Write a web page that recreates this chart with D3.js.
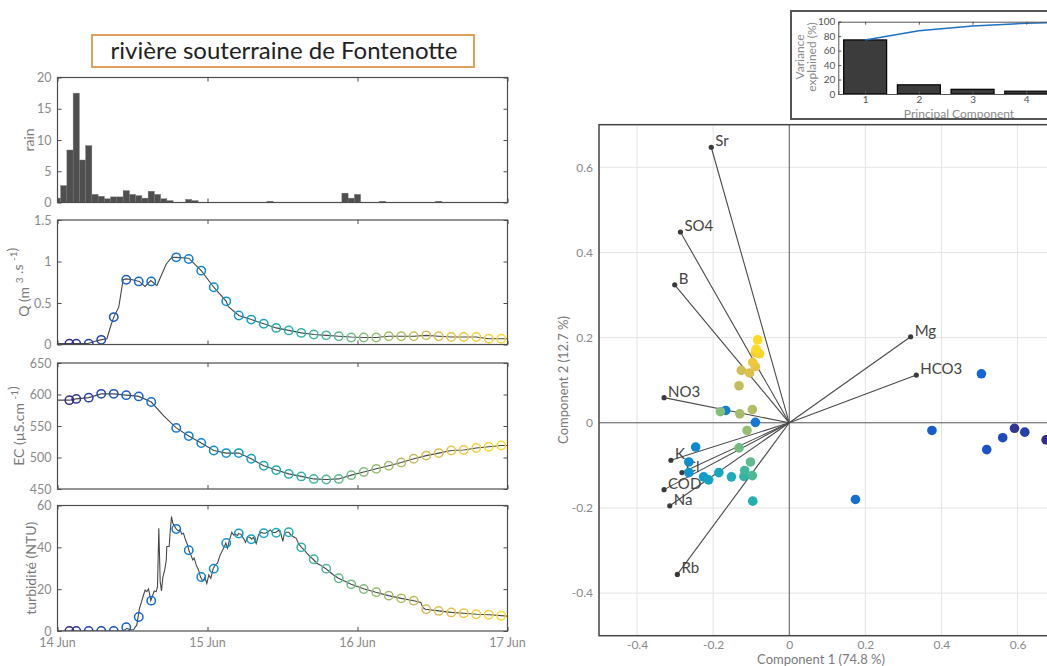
<!DOCTYPE html>
<html>
<head>
<meta charset="utf-8">
<script src="https://cdn.jsdelivr.net/npm/d3@7"></script>
<style>
  body { margin: 0; background: #fff; }
  text { font-family: Lato, "Open Sans", sans-serif; }
</style>
</head>
<body>
<svg id="fig" width="1047" height="666"></svg>
<script>
// ---- time series (hours after 14 Jun 00:00) ----
const dayTicks = [0, 24, 48, 72];
const dayLabels = ["14 Jun", "15 Jun", "16 Jun", "17 Jun"];

const rainHours  = [0, 1, 2, 3, 4, 5, 6, 7, 8, 9, 10, 11, 12, 13, 14, 15, 16, 17, 18, 21, 22, 34, 46, 47, 48, 52, 61];
const rainValues = [0.7, 2.7, 8.4, 17.5, 6.8, 9.1, 1.3, 1.0, 0.6, 0.9, 0.9, 1.9, 1.3, 1.1, 0.7, 1.8, 1.3, 0.6, 0.3, 0.5, 0.3, 0.2, 1.5, 0.7, 1.3, 0.2, 0.2];

const sampleHours = [1.9, 3, 5, 7, 9, 11, 13, 15, 19, 21, 23, 25, 27, 29, 31, 33, 35, 37, 39, 41, 43, 45, 47, 49, 51, 53, 55, 57, 59, 61, 63, 65, 67, 69, 71];
const qSamples    = [0.01, 0.01, 0.01, 0.056, 0.33, 0.78, 0.76, 0.76, 1.05, 1.03, 0.89, 0.69, 0.52, 0.35, 0.30, 0.25, 0.20, 0.17, 0.14, 0.12, 0.11, 0.10, 0.085, 0.085, 0.085, 0.10, 0.10, 0.10, 0.11, 0.10, 0.09, 0.09, 0.09, 0.07, 0.07];
const ecSamples   = [591, 593, 595, 601, 601, 599, 597, 588, 547, 534, 523, 511, 507, 507, 498, 487, 480, 474, 470, 466, 465, 466, 472, 477, 482, 487, 492, 498, 503, 507, 511, 512, 515, 517, 519];
const turbSamples = [0, 0, 0, 0, 0, 1.8, 6.7, 14.5, 48.8, 38.6, 25.8, 29.8, 42.1, 46.6, 43.9, 46.7, 47.0, 47.2, 40.0, 34.3, 29.8, 25.2, 22.3, 20.1, 18.5, 16.9, 15.6, 14.5, 10.4, 9.6, 8.9, 8.5, 8.0, 7.8, 7.3];

const qLine = [[0, 0.012], [4.9, 0.012], [6.0, 0.04], [6.9, 0.056], [7.9, 0.07], [8.5, 0.22], [9.0, 0.33], [9.8, 0.45], [10.5, 0.78],
  [11, 0.79], [12, 0.78], [13.07, 0.76], [14, 0.70], [14.93, 0.77], [15.9, 0.71], [17.4, 0.97], [18.3, 1.05], [19, 1.05], [21, 1.04],
  [23, 0.89], [25, 0.69], [27, 0.52], [27.3, 0.46], [29, 0.35], [31, 0.30], [33, 0.25], [35, 0.20], [37, 0.17], [39, 0.14], [41, 0.12],
  [43, 0.11], [45, 0.10], [47, 0.09], [49, 0.085], [51, 0.085], [53, 0.10], [55, 0.10], [57, 0.10], [59, 0.11], [61, 0.10], [63, 0.09],
  [65, 0.09], [67, 0.09], [69, 0.07], [71, 0.07], [72, 0.07]];

const ecLine = [[0, 591], [1.9, 591], [3, 593], [5, 595], [7, 601], [9, 601], [11, 599], [13, 597], [15, 588], [17, 566], [19, 547],
  [21, 534], [23, 523], [25, 511], [27, 507], [29, 507], [31, 498], [33, 487], [35, 480], [37, 474], [39, 470], [41, 466], [43, 465],
  [45, 466], [47, 472], [49, 477], [51, 482], [53, 487], [55, 492], [57, 498], [59, 503], [61, 507], [63, 511], [65, 512], [67, 515],
  [69, 517], [71, 519], [72, 519]];

const turbLine = [[0, 0], [10.56, 0], [11.09, 1.3], [11.63, 0.6], [12.16, 0.6], [12.69, 2.9], [13.12, 10.8], [13.49, 14.4], [13.76, 17.2],
  [14.03, 19.6], [14.29, 18.8], [14.56, 20.1], [14.72, 17.9], [14.93, 14.5], [15.25, 17.2], [15.47, 19.1], [15.79, 18.8], [16.0, 21.2],
  [16.21, 49.1], [16.43, 23.6], [16.64, 19.1], [16.85, 25.5], [17.17, 29.5], [17.39, 33.5], [17.49, 40.4], [17.87, 40.4], [18.03, 47.6],
  [18.24, 54.7], [18.45, 51.5], [18.77, 49.9], [18.99, 48.8], [19.31, 47.9], [19.63, 48.4], [19.89, 46.3], [20.16, 46.7], [20.48, 43.6],
  [20.8, 41.2], [21.01, 38.6], [21.33, 36.4], [21.65, 34.0], [21.87, 34.8], [22.19, 31.6], [22.56, 29.2], [22.88, 25.8], [23.25, 23.9],
  [23.57, 25.5], [23.89, 22.7], [24.21, 26.8], [24.53, 25.2], [24.91, 29.8], [25.23, 31.6], [25.6, 32.4], [26.03, 36.4], [26.45, 38.8],
  [26.83, 41.2], [26.93, 42.1], [27.2, 39.6], [27.52, 43.6], [27.89, 47.2], [28.16, 45.9], [28.48, 46.3], [28.8, 45.6], [28.96, 46.6],
  [29.33, 46.3], [29.76, 44.3], [30.08, 42.4], [30.4, 45.1], [30.83, 44.7], [31.04, 43.9], [31.36, 44.7], [31.79, 41.8], [32.16, 45.9],
  [32.53, 47.2], [32.91, 46.7], [33.28, 46.7], [33.71, 47.5], [34.03, 48.3], [34.45, 47.1], [34.93, 47.1], [35.36, 48.2], [35.73, 46.7],
  [36.05, 42.8], [36.27, 46.3], [36.59, 47.2], [37.01, 47.2], [37.33, 45.9], [37.76, 45.1], [38.19, 44.3], [38.61, 41.5], [39.04, 40.0],
  [39.47, 38.8], [39.89, 37.2], [40.43, 35.6], [40.91, 34.3], [41.49, 32.4], [42.03, 31.6], [42.93, 29.8], [43.63, 28.1], [44.16, 26.8],
  [44.96, 25.2], [46.99, 22.3], [49.07, 20.1], [50.93, 18.5], [52.96, 16.9], [54.99, 15.6], [57.01, 14.5], [58.13, 13.7], [58.45, 11.2],
  [58.88, 10.4], [60.96, 9.6], [62.99, 8.9], [65.01, 8.5], [67.09, 8.0], [69.12, 7.8], [72, 7.1]];

// ---- PCA ----
const variableNames = ["Sr", "SO4", "B", "NO3", "K", "Cl", "COD", "Na", "Rb", "Mg", "HCO3"];
const loadingPC1 = [-0.205, -0.286, -0.301, -0.329, -0.311, -0.282, -0.329, -0.314, -0.294, 0.319, 0.334];
const loadingPC2 = [0.647, 0.448, 0.324, 0.059, -0.088, -0.117, -0.157, -0.195, -0.356, 0.202, 0.112];

const scorePC1 = [0.675, 0.592, 0.619, 0.561, 0.519, 0.375, 0.505, 0.174, -0.089, -0.167, -0.246, -0.264, -0.264, -0.225, -0.212,
  -0.185, -0.152, -0.096, -0.119, -0.117, -0.097, -0.102, -0.132, -0.181, -0.111, -0.130, -0.097, -0.132, -0.126, -0.104, -0.089,
  -0.096, -0.089, -0.078, -0.087, -0.083];
const scorePC2 = [-0.040, -0.013, -0.022, -0.035, -0.063, -0.018, 0.115, -0.180, 0.001, 0.029, -0.057, -0.092, -0.117, -0.127, -0.134,
  -0.117, -0.127, -0.184, -0.126, -0.112, -0.124, -0.092, -0.059, 0.026, -0.018, 0.021, 0.031, 0.087, 0.123, 0.117, 0.132,
  0.142, 0.165, 0.162, 0.173, 0.195];
const scoreSample = [0, 1, 2, 3, 4, 5, 6, 7, 8, 9, 10, 11, 12, 13, 14, 15, 16, 17, 18, 19, 20, 21, 22, 23, 24, 25, 26, 27, 28, 29, 30,
  31, 32, 33, 34, 34];

const pcNumber = [1, 2, 3, 4, 5];
const pcVariance = [74.8, 12.7, 6.5, 3.9, 1.3];
const pcTickLabels = [1, 2, 3, 4];

// ---- setup ----
const svg = d3.select("#fig");
const frameCol = "#4d4d4d", tickCol = "#8a8a8a", lineCol = "#484848";
const parula = d3.interpolateRgbBasis(["#352a87", "#0f5cdd", "#1481d6", "#06a4ca", "#2eb7a4", "#87bf77", "#d1bb59", "#fec832", "#f9fb0e"]);
const sampleColour = d3.scaleLinear().domain([0, sampleHours.length - 1]).range([0, 0.92]);
const colourOf = i => parula(sampleColour(i));

// title box
svg.append("rect").attr("x", 92).attr("y", 35).attr("width", 382).attr("height", 32)
  .attr("fill", "#fff").attr("stroke", "#dfa15b").attr("stroke-width", 2);
svg.append("text").attr("x", 284).attr("y", 59).attr("text-anchor", "middle")
  .attr("font-size", 24).attr("fill", "#222").text("rivière souterraine de Fontenotte");

const x = d3.scaleLinear().domain([0, 72]).range([57.5, 507.5]);

function panel(id, top, bottom, domain, ticks) {
  const y = d3.scaleLinear().domain(domain).range([bottom, top]);
  const g = svg.append("g");
  g.append("clipPath").attr("id", id).append("rect")
    .attr("x", x.range()[0]).attr("y", top).attr("width", x.range()[1] - x.range()[0]).attr("height", bottom - top);
  const fmt = d => String(d);
  const left = g.append("g").attr("transform", `translate(${x.range()[0]},0)`)
    .call(d3.axisLeft(y).tickValues(ticks).tickSize(-4).tickPadding(6).tickFormat(fmt));
  const right = g.append("g").attr("transform", `translate(${x.range()[1]},0)`)
    .call(d3.axisRight(y).tickValues(ticks).tickSize(-4).tickFormat(""));
  const topAx = g.append("g").attr("transform", `translate(0,${top})`)
    .call(d3.axisTop(x).tickValues(dayTicks).tickSize(-4).tickFormat(""));
  const botAx = g.append("g").attr("transform", `translate(0,${bottom})`)
    .call(d3.axisBottom(x).tickValues(dayTicks).tickSize(-4).tickFormat(""));
  [left, right, topAx, botAx].forEach(a => {
    a.select(".domain").remove();
    a.selectAll("line").attr("stroke", frameCol);
    a.selectAll("text").attr("fill", tickCol).attr("font-size", 12.5).attr("font-family", "Lato");
  });
  const plot = g.append("g").attr("clip-path", `url(#${id})`);
  return { y, g, plot, top, bottom };
}

function frame(p) {
  p.g.append("rect").attr("x", x.range()[0]).attr("y", p.top)
    .attr("width", x.range()[1] - x.range()[0]).attr("height", p.bottom - p.top)
    .attr("fill", "none").attr("stroke", frameCol).attr("stroke-width", 1.2);
}

function yLabel(p, xpos, parts) {
  const t = p.g.append("text")
    .attr("transform", `translate(${xpos},${(p.top + p.bottom) / 2}) rotate(-90)`)
    .attr("text-anchor", "middle").attr("font-size", 14).attr("fill", "#7a7a7a");
  parts.forEach(([s, sup]) => {
    t.append("tspan").attr("font-size", sup ? 10 : 14).attr("dy", sup ? -6 : 0).text(s);
    if (sup) t.append("tspan").attr("dy", 6).text("");
  });
}

function series(p, line, values) {
  p.plot.append("path").datum(line)
    .attr("d", d3.line().x(d => x(d[0])).y(d => p.y(d[1])))
    .attr("fill", "none").attr("stroke", lineCol).attr("stroke-width", 1.1);
  p.plot.selectAll("circle.s").data(values).join("circle").attr("class", "s")
    .attr("cx", (d, i) => x(sampleHours[i])).attr("cy", d => p.y(d)).attr("r", 4.2)
    .attr("fill", "none").attr("stroke", (d, i) => colourOf(i)).attr("stroke-width", 1.5);
}

// rain
const pRain = panel("cRain", 77.5, 202.5, [0, 20], [0, 5, 10, 15, 20]);
pRain.plot.selectAll("rect").data(rainValues).join("rect")
  .attr("x", (d, i) => x(rainHours[i] - 0.5)).attr("width", x(1) - x(0))
  .attr("y", d => pRain.y(d)).attr("height", d => pRain.y(0) - pRain.y(d))
  .attr("fill", "#4f4f4f").attr("stroke", "#777").attr("stroke-width", 0.4);
frame(pRain);
yLabel(pRain, 34, [["rain", false]]);

// discharge
const pQ = panel("cQ", 220, 344.5, [0, 1.5], [0, 0.5, 1, 1.5]);
series(pQ, qLine, qSamples);
frame(pQ);
yLabel(pQ, 29, [["Q (m ", false], ["3", true], [" .s ", false], ["-1", true], [")", false]]);

// conductivity
const pEC = panel("cEC", 363, 489, [450, 650], [450, 500, 550, 600, 650]);
series(pEC, ecLine, ecSamples);
frame(pEC);
yLabel(pEC, 24, [["EC (µS.cm    ", false], ["-1", true], [")", false]]);

// turbidity
const pT = panel("cT", 505.5, 631, [0, 60], [0, 20, 40, 60]);
series(pT, turbLine, turbSamples);
frame(pT);
yLabel(pT, 36, [["turbidité (NTU)", false]]);
svg.append("g").selectAll("text").data(dayTicks).join("text")
  .attr("x", d => x(d)).attr("y", 647).attr("text-anchor", "middle")
  .attr("font-size", 12.5).attr("fill", tickCol).text((d, i) => dayLabels[i]);

// ---- biplot ----
const bx = d3.scaleLinear().domain([-0.5, 0.8]).range([599, 599 + 1.3 * 380.5]);
const by = d3.scaleLinear().domain([-0.5, 0.7]).range([635.7, 124.7]);
const gridTicks = [-0.4, -0.2, 0.2, 0.4, 0.6];
const bp = svg.append("g");
bp.append("rect").attr("x", bx(-0.5)).attr("y", by(0.7)).attr("width", bx(0.8) - bx(-0.5))
  .attr("height", by(-0.5) - by(0.7)).attr("fill", "#fff");
bp.selectAll("line.gx").data(gridTicks).join("line").attr("class", "gx")
  .attr("x1", d => bx(d)).attr("x2", d => bx(d)).attr("y1", by(0.7)).attr("y2", by(-0.5))
  .attr("stroke", "#e4e4e4").attr("stroke-width", 1);
bp.selectAll("line.gy").data(gridTicks).join("line").attr("class", "gy")
  .attr("y1", d => by(d)).attr("y2", d => by(d)).attr("x1", bx(-0.5)).attr("x2", bx(0.8))
  .attr("stroke", "#e4e4e4").attr("stroke-width", 1);
bp.append("line").attr("x1", bx(0)).attr("x2", bx(0)).attr("y1", by(0.7)).attr("y2", by(-0.5))
  .attr("stroke", "#555").attr("stroke-width", 1);
bp.append("line").attr("y1", by(0)).attr("y2", by(0)).attr("x1", bx(-0.5)).attr("x2", bx(0.8))
  .attr("stroke", "#555").attr("stroke-width", 1);

const bxAxis = bp.append("g").attr("transform", `translate(0,${by(-0.5)})`)
  .call(d3.axisBottom(bx).tickValues([-0.4, -0.2, 0, 0.2, 0.4, 0.6]).tickSize(0).tickPadding(5).tickFormat(d => String(d)));
const byAxis = bp.append("g").attr("transform", `translate(${bx(-0.5)},0)`)
  .call(d3.axisLeft(by).tickValues([-0.4, -0.2, 0, 0.2, 0.4, 0.6]).tickSize(0).tickPadding(6).tickFormat(d => String(d)));
[bxAxis, byAxis].forEach(a => {
  a.select(".domain").remove();
  a.selectAll("text").attr("fill", tickCol).attr("font-size", 12).attr("font-family", "Lato");
});

// loadings
bp.selectAll("line.ld").data(variableNames).join("line").attr("class", "ld")
  .attr("x1", bx(0)).attr("y1", by(0))
  .attr("x2", (d, i) => bx(loadingPC1[i])).attr("y2", (d, i) => by(loadingPC2[i]))
  .attr("stroke", "#4a4a4a").attr("stroke-width", 1.1);
bp.selectAll("circle.ld").data(variableNames).join("circle").attr("class", "ld")
  .attr("cx", (d, i) => bx(loadingPC1[i])).attr("cy", (d, i) => by(loadingPC2[i])).attr("r", 2.6)
  .attr("fill", "#3a3a3a");
bp.selectAll("text.ld").data(variableNames).join("text").attr("class", "ld")
  .attr("x", (d, i) => bx(loadingPC1[i]) + 4).attr("y", (d, i) => by(loadingPC2[i]) - 1)
  .attr("font-family", "Liberation Sans, Arial, sans-serif").attr("font-size", 15).attr("fill", "#444")
  .text(d => d);

// scores
bp.selectAll("circle.sc").data(scorePC1).join("circle").attr("class", "sc")
  .attr("cx", d => bx(d)).attr("cy", (d, i) => by(scorePC2[i])).attr("r", 4.8)
  .attr("fill", (d, i) => colourOf(scoreSample[i]));

bp.append("rect").attr("x", bx(-0.5)).attr("y", by(0.7)).attr("width", bx(0.8) - bx(-0.5))
  .attr("height", by(-0.5) - by(0.7)).attr("fill", "none").attr("stroke", "#444").attr("stroke-width", 1.5);
bp.append("text").attr("x", 821).attr("y", 664).attr("text-anchor", "middle")
  .attr("font-size", 13).attr("fill", "#7a7a7a").text("Component 1 (74.8 %)");
bp.append("text").attr("transform", `translate(568,380) rotate(-90)`).attr("text-anchor", "middle")
  .attr("font-size", 13).attr("fill", "#7a7a7a").text("Component 2 (12.7 %)");

// ---- scree inset ----
const inset = svg.append("g");
inset.append("rect").attr("x", 791).attr("y", 11).attr("width", 300).attr("height", 108)
  .attr("fill", "#fff").attr("stroke", "#555").attr("stroke-width", 2);
const ix = d3.scaleLinear().domain([0.5, 5.5]).range([838.3, 838.3 + 5 * 53.7]);
const iy = d3.scaleLinear().domain([0, 100]).range([94, 21.7]);
inset.selectAll("rect.bar").data(pcVariance).join("rect").attr("class", "bar")
  .attr("x", (d, i) => ix(pcNumber[i] - 0.4)).attr("width", ix(0.8) - ix(0))
  .attr("y", d => iy(d)).attr("height", d => iy(0) - iy(d))
  .attr("fill", "#3c3c3c").attr("stroke", "#000").attr("stroke-width", 1.2);
const cumulative = Array.from(d3.cumsum(pcVariance));
inset.append("path").datum(cumulative)
  .attr("d", d3.line().x((d, i) => ix(pcNumber[i])).y(d => iy(d)))
  .attr("fill", "none").attr("stroke", "#1c72c4").attr("stroke-width", 1.5);
const iyAxis = inset.append("g").attr("transform", `translate(${ix(0.5)},0)`)
  .call(d3.axisLeft(iy).tickValues([0, 20, 40, 60, 80, 100]).tickSize(-3).tickPadding(3).tickFormat(d => String(d)));
const ixAxis = inset.append("g").attr("transform", `translate(0,${iy(0)})`)
  .call(d3.axisBottom(ix).tickValues(pcTickLabels).tickSize(-3).tickPadding(2).tickFormat(d => String(d)));
const ixTop = inset.append("g").attr("transform", `translate(0,${iy(100)})`)
  .call(d3.axisTop(ix).tickValues(pcTickLabels).tickSize(-3).tickFormat(""));
[iyAxis, ixAxis, ixTop].forEach(a => {
  a.select(".domain").attr("stroke", "#555");
  a.selectAll("line").attr("stroke", "#555");
  a.selectAll("text").attr("fill", "#555").attr("font-size", 10).attr("font-family", "Liberation Sans, Arial, sans-serif");
});
inset.append("text").attr("transform", "translate(804,57) rotate(-90)").attr("text-anchor", "middle")
  .attr("font-size", 12).attr("fill", "#8a8a8a").text("Variance");
inset.append("text").attr("transform", "translate(816,57) rotate(-90)").attr("text-anchor", "middle")
  .attr("font-size", 12).attr("fill", "#8a8a8a").text("explained (%)");
inset.append("text").attr("x", 959).attr("y", 117.5).attr("text-anchor", "middle")
  .attr("font-size", 12).attr("fill", "#8a8a8a").text("Principal Component");
</script>
</body>
</html>
